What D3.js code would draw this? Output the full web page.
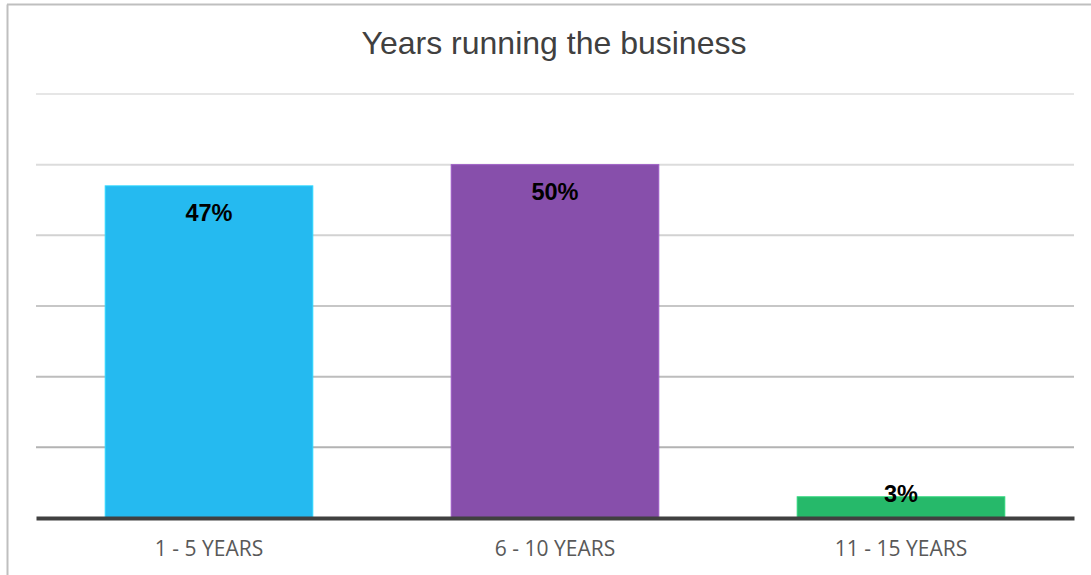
<!DOCTYPE html>
<html>
<head>
<meta charset="utf-8">
<script src="https://cdn.jsdelivr.net/npm/d3@7"></script>
<style>
  body { margin: 0; background: #fff; }
  svg { display: block; }
</style>
</head>
<body>
<svg id="chart" width="1091" height="575"></svg>
<script>
const categories = ["1 - 5 YEARS", "6 - 10 YEARS", "11 - 15 YEARS"];
const values = [47, 50, 3];
const colors = ["#25baf0", "#874fab", "#26b96a"];
const yTicks = [10, 20, 30, 40, 50, 60];

const svg = d3.select("#chart");
const margin = { top: 94, right: 17, bottom: 57, left: 36 };
const width = +svg.attr("width") - margin.left - margin.right;
const height = +svg.attr("height") - margin.top - margin.bottom;

// outer frame (left + top edges only visible)
svg.append("line")
  .attr("x1", 7.5).attr("x2", 7.5).attr("y1", 4.5).attr("y2", 575)
  .attr("stroke", "#bfbfbf").attr("stroke-width", 2);
svg.append("line")
  .attr("x1", 7).attr("x2", 1091).attr("y1", 4.5).attr("y2", 4.5)
  .attr("stroke", "#bfbfbf").attr("stroke-width", 2);

svg.append("text")
  .attr("x", 554)
  .attr("y", 54)
  .attr("text-anchor", "middle")
  .attr("font-family", "Liberation Sans, Arial, sans-serif")
  .attr("font-size", 32)
  .attr("fill", "#404040")
  .text("Years running the business");

const x = d3.scaleBand()
  .domain(categories)
  .range([margin.left, margin.left + width])
  .paddingInner(0.4)
  .paddingOuter(0.2);

const y = d3.scaleLinear()
  .domain([0, 60])
  .range([margin.top + height, margin.top]);

// gridlines get a bit darker toward the bottom
const gridColor = d3.scaleLinear().domain([60, 10]).range(["#e6e6e6", "#b3b3b3"]);

svg.append("g")
  .selectAll("line")
  .data(yTicks)
  .join("line")
  .attr("x1", margin.left)
  .attr("x2", margin.left + width)
  .attr("y1", d => y(d))
  .attr("y2", d => y(d))
  .attr("stroke", d => gridColor(d))
  .attr("stroke-width", 2);

svg.append("g")
  .selectAll("rect")
  .data(values)
  .join("rect")
  .attr("x", (d, i) => x(categories[i]))
  .attr("width", x.bandwidth())
  .attr("y", d => y(d))
  .attr("height", d => y(0) - y(d))
  .attr("fill", (d, i) => colors[i])
  .attr("stroke", (d, i) => d3.color(colors[i]).brighter(0.4))
  .attr("stroke-width", 1);

// labels sit inside the top of the bar, but never below the baseline
svg.append("g")
  .selectAll("text")
  .data(values)
  .join("text")
  .attr("x", (d, i) => x(categories[i]) + x.bandwidth() / 2)
  .attr("y", d => Math.min(y(d) + 35, y(0) - 16))
  .attr("text-anchor", "middle")
  .attr("font-family", "Liberation Sans, Arial, sans-serif")
  .attr("font-weight", "bold")
  .attr("font-size", 23.5)
  .attr("fill", "#000")
  .text(d => d + "%");

// baseline axis
const xAxis = svg.append("g")
  .attr("transform", `translate(0,${y(0)})`)
  .call(d3.axisBottom(x).tickSize(0).tickPadding(23));
xAxis.select(".domain")
  .attr("stroke", "#404040")
  .attr("stroke-width", 4);
xAxis.selectAll("text")
  .attr("font-family", "Open Sans, sans-serif")
  .attr("font-size", 21)
  .attr("fill", "#595959");
</script>
</body>
</html>
